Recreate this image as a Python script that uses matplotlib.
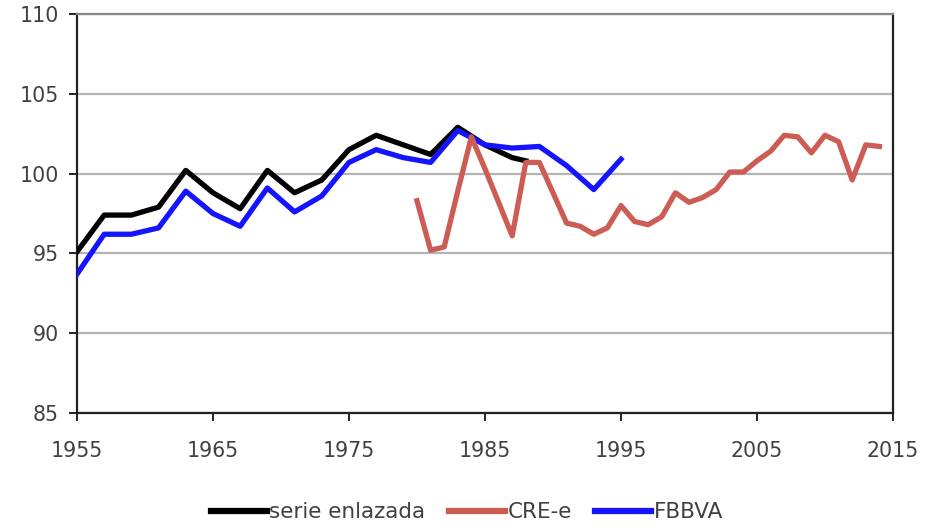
import matplotlib

matplotlib.use("Agg")
import matplotlib.pyplot as plt

# serie enlazada (linked series), CRE-e and FBBVA indices
years_linked = [1955, 1957, 1959, 1961, 1963, 1965, 1967, 1969, 1971, 1973,
                1975, 1977, 1979, 1981, 1983, 1985, 1987, 1988]
linked = [95.1, 97.4, 97.4, 97.9, 100.2, 98.8, 97.8, 100.2, 98.8, 99.6,
          101.5, 102.4, 101.8, 101.2, 102.9, 101.8, 101.0, 100.8]

years_cre = list(range(1980, 2015))
cre = [98.3, 95.2, 95.4, 98.9, 102.3, 100.3, 98.2, 96.1, 100.7, 100.7,
       98.8, 96.9, 96.7, 96.2, 96.6, 98.0, 97.0, 96.8, 97.3, 98.8,
       98.2, 98.5, 99.0, 100.1, 100.1, 100.8, 101.4, 102.4, 102.3, 101.3,
       102.4, 102.0, 99.6, 101.8, 101.7]

years_fbbva = [1955, 1957, 1959, 1961, 1963, 1965, 1967, 1969, 1971, 1973,
               1975, 1977, 1979, 1981, 1983, 1985, 1987, 1989, 1991, 1993, 1995]
fbbva = [93.7, 96.2, 96.2, 96.6, 98.9, 97.5, 96.7, 99.1, 97.6, 98.6,
         100.7, 101.5, 101.0, 100.7, 102.7, 101.8, 101.6, 101.7, 100.5, 99.0, 100.9]

x_ticks = [1955, 1965, 1975, 1985, 1995, 2005, 2015]
y_ticks = [85, 90, 95, 100, 105, 110]

TEXT = "#404040"

fig = plt.figure(figsize=(9.25, 5.26), dpi=100)
ax = fig.add_axes([0.0832, 0.2148, 0.8822, 0.7586])

ax.plot(years_linked, linked, color="black", lw=3.8, label="serie enlazada", zorder=3)
ax.plot(years_cre, cre, color="#CD5C55", lw=3.8, label="CRE-e", zorder=4)
ax.plot(years_fbbva, fbbva, color="#1414FF", lw=3.8, label="FBBVA", zorder=3)

ax.set_xlim(1955, 2015)
ax.set_ylim(85, 110)
ax.set_xticks(x_ticks)
ax.set_yticks(y_ticks)
ax.yaxis.grid(True, color="#b4b4b4", lw=1.6)
ax.set_axisbelow(True)

for side in ("left", "bottom", "right"):
    ax.spines[side].set_color("#222222")
    ax.spines[side].set_linewidth(1.6)
ax.spines["top"].set_color("#888888")
ax.spines["top"].set_linewidth(1.6)

ax.tick_params(axis="both", direction="out", length=6, width=1.4, color="#222222",
               labelsize=14.8, labelcolor=TEXT)
ax.tick_params(axis="x", pad=14)
ax.tick_params(axis="y", pad=7)
ax.tick_params(right=False)

leg = fig.legend(loc="lower center", bbox_to_anchor=(0.505, -0.03), ncol=3,
                 frameon=False, fontsize=15.5, handlelength=2.6,
                 handletextpad=0.1, columnspacing=1.1)
for text in leg.get_texts():
    text.set_color(TEXT)
for line in leg.get_lines():
    line.set_linewidth(4.5)

fig.savefig("out.png", dpi=100)
